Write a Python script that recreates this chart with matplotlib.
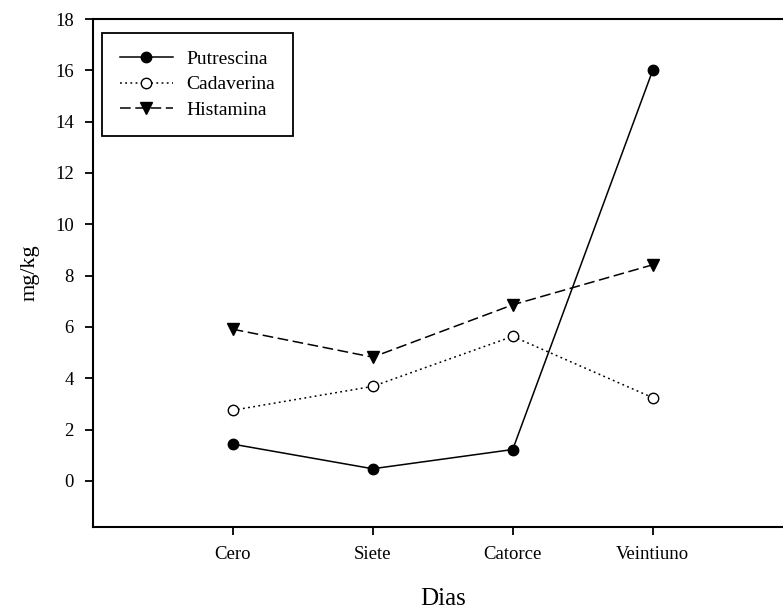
import matplotlib.pyplot as plt

plt.rcParams['font.family'] = ['Liberation Serif', 'DejaVu Serif']

dias = ["Cero", "Siete", "Catorce", "Veintiuno"]
putrescina = [1.43, 0.47, 1.22, 16.0]
cadaverina = [2.75, 3.68, 5.63, 3.24]
histamina = [5.91, 4.82, 6.86, 8.42]

x = list(range(1, len(dias) + 1))

fig = plt.figure(figsize=(7.83, 6.15), dpi=100)
# right edge of the axes runs past the figure, so the right spine is cut off
ax = fig.add_axes([0.1184, 0.1431, 0.894, 0.826])

ax.plot(x, putrescina, color="black", lw=1.1, marker="o", ms=7.5,
        mfc="black", mec="black", label="Putrescina")
ax.plot(x, cadaverina, color="black", lw=1.1, marker="o", ms=7.5,
        mfc="white", mec="black", mew=1.0, label="Cadaverina",
        dashes=(1.2, 2.2))
ax.plot(x, histamina, color="black", lw=1.1, marker="v", ms=8,
        mfc="black", mec="black", label="Histamina", dashes=(7, 3))

ax.set_xlim(0, 5)
ax.set_ylim(-1.8, 18)
ax.set_xticks(x)
ax.set_xticklabels(dias)
ax.set_yticks(range(0, 19, 2))

for side in ("left", "bottom", "top", "right"):
    ax.spines[side].set_linewidth(1.5)
ax.tick_params(direction="out", length=5.5, width=1.3, labelsize=13.5,
               pad=8, top=False, right=False)

ax.set_xlabel("Dias", fontsize=18, labelpad=18)
ax.set_ylabel("mg/kg", fontsize=16, labelpad=11)

leg = ax.legend(loc="upper left", bbox_to_anchor=(0.0129, 0.973),
                borderaxespad=0, fontsize=14, handlelength=2.75,
                handletextpad=0.7, borderpad=0.92, labelspacing=0.39,
                fancybox=False, framealpha=1)
leg.get_frame().set_edgecolor("black")
leg.get_frame().set_linewidth(1.3)

fig.savefig("out.png", dpi=100)
